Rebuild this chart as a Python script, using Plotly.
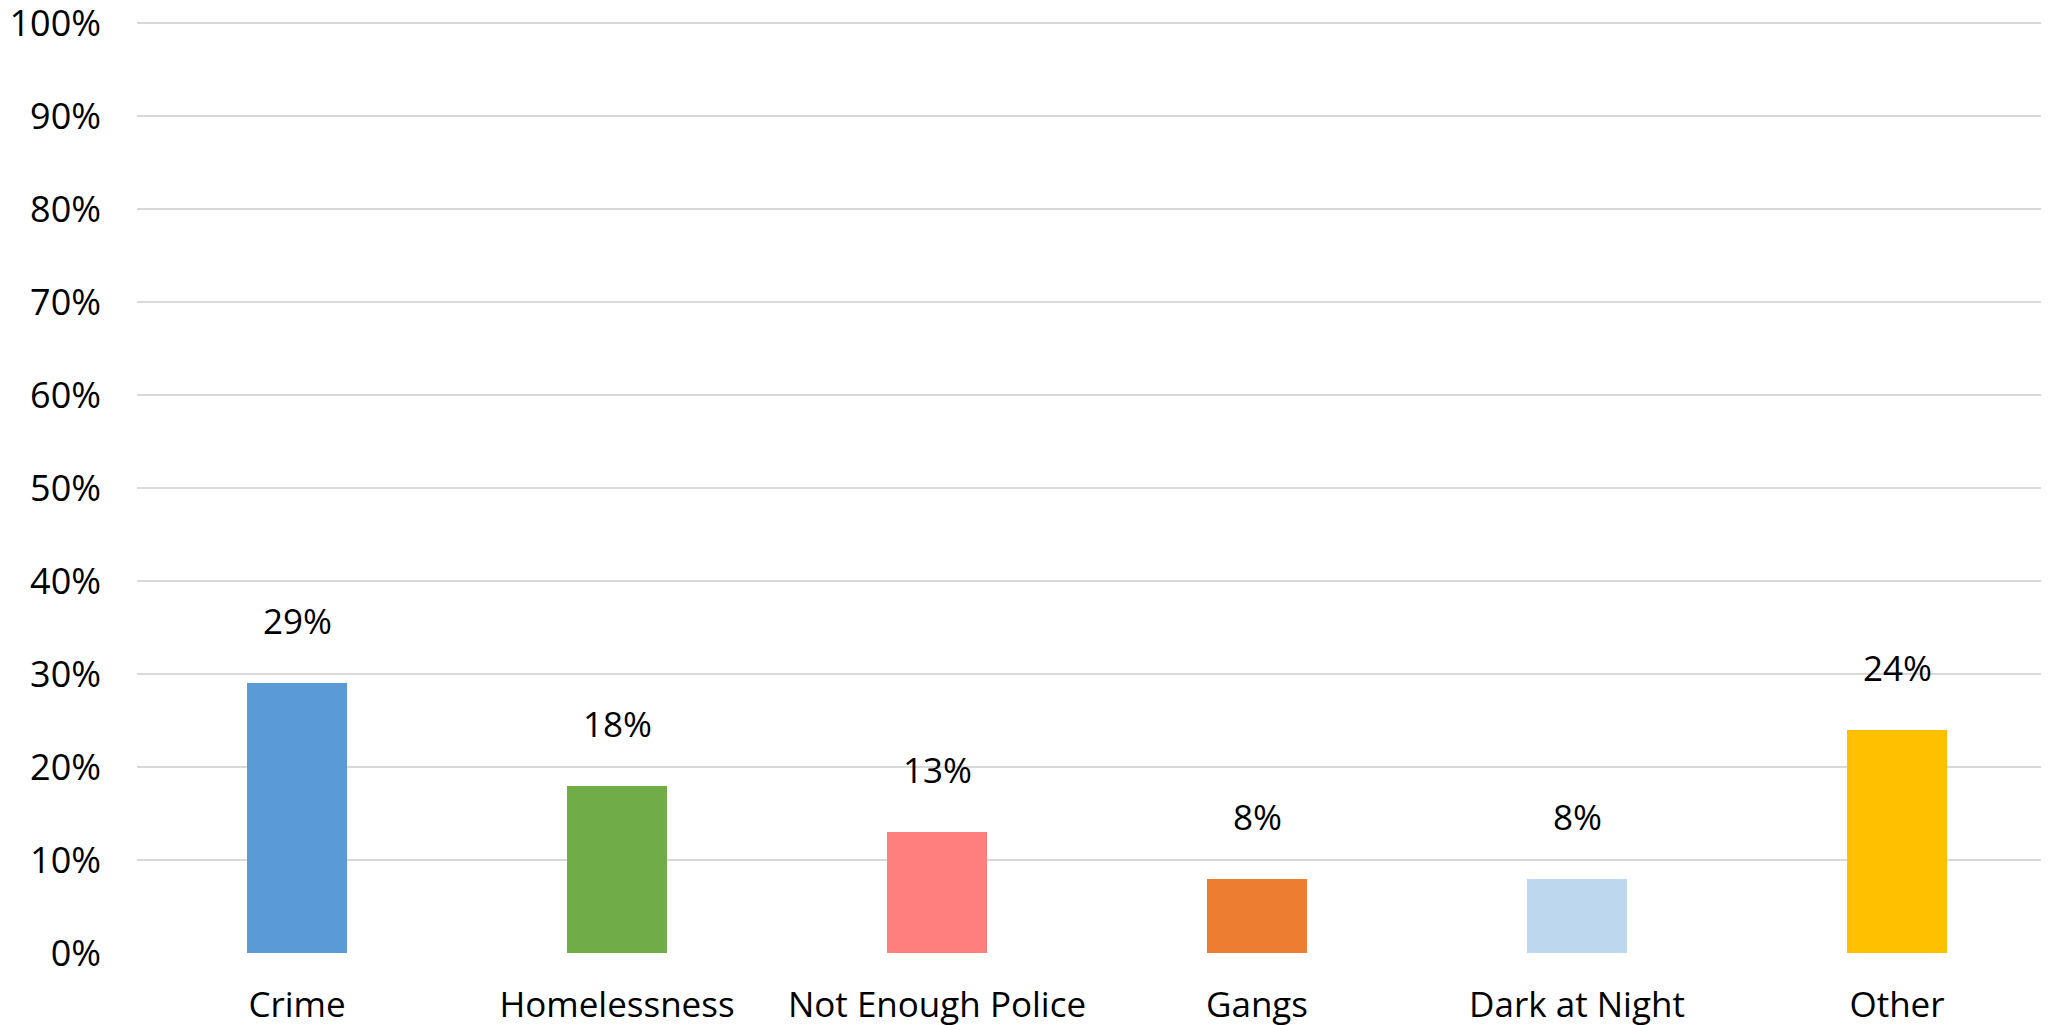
import plotly.graph_objects as go

categories = ["Crime", "Homelessness", "Not Enough Police", "Gangs", "Dark at Night", "Other"]
values = [0.29, 0.18, 0.13, 0.08, 0.08, 0.24]
value_labels = ["29%", "18%", "13%", "8%", "8%", "24%"]
colors = ["#5B9BD5", "#70AD47", "#FF7F7F", "#ED7D31", "#BDD7EE", "#FFC000"]
y_ticks = [0, 0.1, 0.2, 0.3, 0.4, 0.5, 0.6, 0.7, 0.8, 0.9, 1.0]

FONT = "Open Sans"
fig = go.Figure()
fig.add_trace(go.Bar(
    x=categories, y=values, marker=dict(color=colors, line=dict(width=0)),
    width=0.312, hoverinfo="skip", cliponaxis=False,
))

for c, v, t in zip(categories, values, value_labels):
    fig.add_annotation(x=c, y=v, text=t, showarrow=False, yanchor="bottom",
                       yshift=37, font=dict(family=FONT, size=35, color="#000000"))

fig.update_layout(
    width=2049, height=1025,
    margin=dict(l=129, r=0, t=6, b=80, autoexpand=False),
    paper_bgcolor="white", plot_bgcolor="white",
    showlegend=False,
    font=dict(family=FONT, size=35, color="#000000"),
    bargap=0,
)
fig.update_xaxes(
    type="category", range=[-0.5, 5.5], showgrid=False, zeroline=False,
    showline=False, ticks="", tickfont=dict(family=FONT, size=35, color="#000000"),
    ticklabelstandoff=28, automargin=False, ticklabeloverflow="allow",
)
fig.update_yaxes(
    range=[0, 1.01], tickvals=y_ticks, tickformat=".0%", showgrid=True,
    gridcolor="#D9D9D9", gridwidth=2, zeroline=False, showline=False, ticks="",
    tickfont=dict(family=FONT, size=36, color="#000000"), ticklabelstandoff=35,
    automargin=False, ticklabeloverflow="allow",
)

fig.write_html("out.html")
